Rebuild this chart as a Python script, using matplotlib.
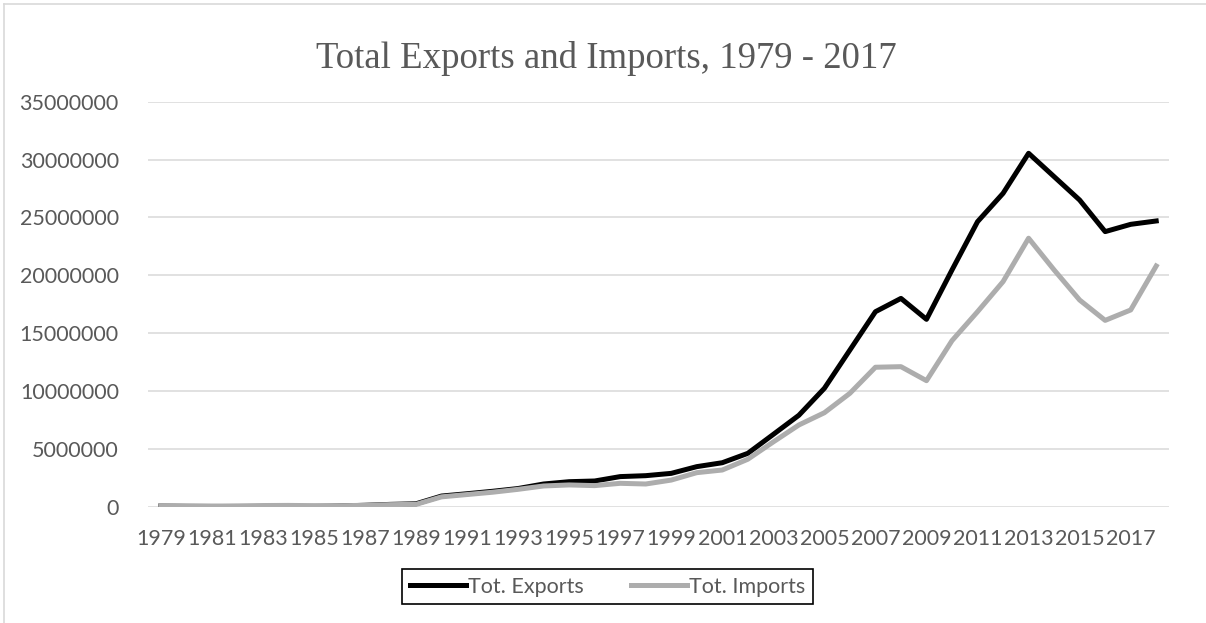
import matplotlib.pyplot as plt
from matplotlib.lines import Line2D

years = list(range(1979, 2019))
exports = [50000, 30000, 20000, 10000, 10000, 15000, 20000, 60000, 120000, 200000,
           250000, 920000, 1120000, 1330000, 1570000, 1960000, 2160000, 2220000, 2600000, 2680000,
           2880000, 3460000, 3800000, 4610000, 6250000, 7900000, 10230000, 13540000, 16850000, 18000000,
           16190000, 20460000, 24630000, 27080000, 30540000, 28520000, 26500000, 23770000, 24400000, 24690000]
imports = [80000, 60000, 50000, 70000, 100000, 110000, 90000, 80000, 120000, 180000,
           200000, 850000, 1050000, 1250000, 1500000, 1790000, 1880000, 1820000, 2020000, 1960000,
           2300000, 2940000, 3170000, 4100000, 5600000, 7060000, 8120000, 9800000, 12050000, 12100000,
           10890000, 14350000, 16850000, 19450000, 23200000, 20460000, 17860000, 16100000, 17000000, 20800000]
year_labels = [str(y) if (y - 1979) % 2 == 0 else "" for y in years]
y_ticks = [0, 5000000, 10000000, 15000000, 20000000, 25000000, 30000000, 35000000]

fig = plt.figure(figsize=(12.06, 6.23), dpi=100)
ax = fig.add_axes([0.1227, 0.1867, 0.8466, 0.6501])

x = list(range(len(years)))
ax.plot(x, exports, color="black", lw=3.6, label="Tot. Exports", solid_joinstyle="round")
ax.plot(x, imports, color="#ADADAD", lw=3.6, label="Tot. Imports", solid_joinstyle="round")

ax.set_xlim(-0.5, len(years) - 0.5)
ax.set_ylim(0, 35000000)
ax.set_yticks(y_ticks)
ax.set_yticklabels([str(v) for v in y_ticks])
ax.set_xticks(x)
ax.set_xticklabels(year_labels)
ax.grid(axis="y", color="#D9D9D9", lw=1.1)
ax.set_axisbelow(True)
for s in ax.spines.values():
    s.set_visible(False)
ax.tick_params(length=0, labelsize=15.5, labelcolor="#595959")
ax.tick_params(axis="y", pad=21)
ax.tick_params(axis="x", pad=16)
for lab in ax.get_xticklabels() + ax.get_yticklabels():
    lab.set_fontfamily("Lato")

fig.text(0.503, 1 - 58 / 623, "Total Exports and Imports, 1979 - 2017",
         ha="center", va="center", fontsize=26.5, color="#595959", family="Liberation Serif")

leg = fig.legend(loc="center", bbox_to_anchor=(0.504, 0.058), ncol=2, frameon=True,
                 fancybox=False, edgecolor="black", framealpha=1,
                 prop={"family": "Lato", "size": 15.5}, handlelength=2.6,
                 handletextpad=0.1, columnspacing=2.2, borderpad=0.35, borderaxespad=0)
leg.get_frame().set_linewidth(1.2)
for t in leg.get_texts():
    t.set_color("#595959")

# chart area border
fig.add_artist(Line2D([4 / 1206, 4 / 1206], [0, 1 - 4 / 623], color="#D9D9D9", lw=1.2))
fig.add_artist(Line2D([4 / 1206, 1], [1 - 4 / 623, 1 - 4 / 623], color="#D9D9D9", lw=1.2))

fig.savefig("out.png", dpi=100)
